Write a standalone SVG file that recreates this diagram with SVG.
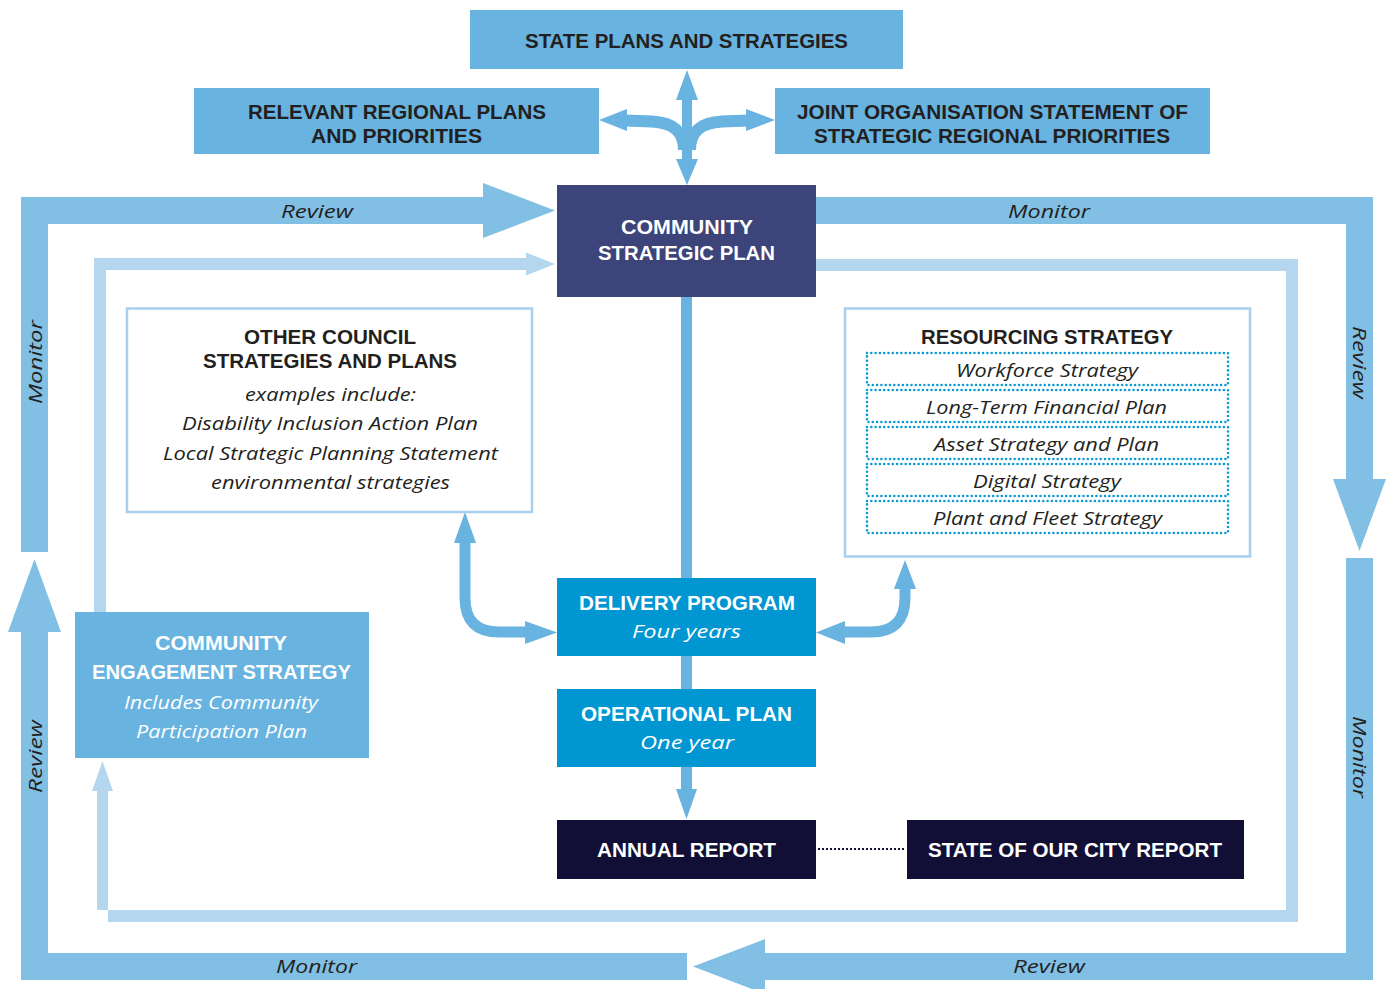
<svg xmlns="http://www.w3.org/2000/svg" width="1391" height="989" viewBox="0 0 1391 989">
<style>
.bold{font-family:"Liberation Sans","Open Sans",Arial,sans-serif;font-weight:700;font-size:21px;text-anchor:middle}
.ital{font-family:"Open Sans","Noto Sans","Liberation Sans",sans-serif;font-style:italic;font-size:19px;text-anchor:middle}
.dk{fill:#231f20}
.wh{fill:#ffffff}
.band{fill:#82bfe4}
.lband{fill:#b4d6ee}
.arr{fill:#68b3e0}
.arrl{fill:none;stroke:#68b3e0}
.dot{fill:none;stroke:#0a9ad6;stroke-width:2.6;stroke-linecap:round;stroke-dasharray:0 4.3}
</style>
<rect width="1391" height="989" fill="#ffffff"/>
<g id="connectors">
  <!-- outer loop -->
  <polygon class="band" points="21,552 21,197 483,197 483,183 555,210.5 483,238 483,224 48,224 48,552"/>
  <polygon class="band" points="816,197 1373,197 1373,479 1386,479 1359.5,551 1333,479 1346,479 1346,224 816,224"/>
  <polygon class="band" points="1346,558 1373,558 1373,980 765,980 765,994 693,966.5 765,939 765,953 1346,953"/>
  <polygon class="band" points="687,953 687,980 21,980 21,632 8,632 34.5,559 61,632 48,632 48,953"/>
  <!-- inner light loop -->
  <polygon class="lband" points="94,612 94,258 526,258 526,252.5 555,264 526,275.5 526,270 106,270 106,612"/>
  <polygon class="lband" points="816,259 1298,259 1298,922 108,922 108,791 113,791 102.5,761 92,791 97,791 97,910 1286,910 1286,271 816,271"/>
  <!-- central line -->
  <line x1="686.5" y1="297" x2="686.5" y2="792" stroke="#68b3e0" stroke-width="11"/>
  <polygon class="arr" points="676,789 686.5,819 697,789"/>
  <!-- four-way arrow -->
  <line x1="687" y1="98" x2="687" y2="161" stroke="#68b3e0" stroke-width="10"/>
  <polygon class="arr" points="676,100 687,70 698,100"/>
  <polygon class="arr" points="676,159 687,185 698,159"/>
  <path class="arrl" stroke-width="12" d="M625,120.5 L652,121.5 Q684,123 684,150"/>
  <path class="arrl" stroke-width="12" d="M749,120.5 L722,121.5 Q690,123 690,150"/>
  <polygon class="arr" points="627,109 599,120 627,131"/>
  <polygon class="arr" points="746,109 775,120 746,131"/>
  <!-- bidirectional arrows -->
  <path class="arrl" stroke-width="11" d="M465,541 L465,598 Q465,632 499,632 L527,632"/>
  <polygon class="arr" points="454,543 465,512 476,543"/>
  <polygon class="arr" points="525,621 557,632.5 525,644"/>
  <path class="arrl" stroke-width="11" d="M843,632 L871,632 Q905,632 905,598 L905,587"/>
  <polygon class="arr" points="845,621 816,632.5 845,644"/>
  <polygon class="arr" points="894,589 905,560 916,589"/>
  <!-- dotted link -->
  <line x1="818" y1="849" x2="906" y2="849" stroke="#110f35" stroke-width="2" stroke-dasharray="2 2"/>
  <!-- band labels -->
  <text class="ital dk" x="317" y="218" font-size="20" textLength="72" lengthAdjust="spacingAndGlyphs">Review</text>
  <text class="ital dk" x="1049" y="218" font-size="20" textLength="82" lengthAdjust="spacingAndGlyphs">Monitor</text>
  <text class="ital dk" x="316.5" y="973" font-size="20" textLength="81" lengthAdjust="spacingAndGlyphs">Monitor</text>
  <text class="ital dk" x="1049" y="973" font-size="20" textLength="72" lengthAdjust="spacingAndGlyphs">Review</text>
  <text class="ital dk" transform="translate(34.5,362) rotate(-90)" x="0" y="7" font-size="20" textLength="84" lengthAdjust="spacingAndGlyphs">Monitor</text>
  <text class="ital dk" transform="translate(34.5,756.5) rotate(-90)" x="0" y="7" font-size="20" textLength="73" lengthAdjust="spacingAndGlyphs">Review</text>
  <text class="ital dk" transform="translate(1359.5,362.5) rotate(90)" x="0" y="7" font-size="20" textLength="73" lengthAdjust="spacingAndGlyphs">Review</text>
  <text class="ital dk" transform="translate(1359.5,757) rotate(90)" x="0" y="7" font-size="20" textLength="82" lengthAdjust="spacingAndGlyphs">Monitor</text>
</g>
<g id="state-plans">
  <rect x="470" y="10" width="433" height="59" fill="#68b3e0"/>
  <text class="bold dk" x="686.5" y="48" font-size="22" textLength="323" lengthAdjust="spacingAndGlyphs">STATE PLANS AND STRATEGIES</text>
</g>
<g id="regional-plans">
  <rect x="194" y="88" width="405" height="66" fill="#68b3e0"/>
  <text class="bold dk" x="397" y="119" font-size="20.4" textLength="298" lengthAdjust="spacingAndGlyphs">RELEVANT REGIONAL PLANS</text>
  <text class="bold dk" x="396.5" y="142.5" font-size="20.4" textLength="171" lengthAdjust="spacingAndGlyphs">AND PRIORITIES</text>
</g>
<g id="joint-organisation">
  <rect x="775" y="88" width="435" height="66" fill="#68b3e0"/>
  <text class="bold dk" x="992.5" y="119" font-size="20.4" textLength="391" lengthAdjust="spacingAndGlyphs">JOINT ORGANISATION STATEMENT OF</text>
  <text class="bold dk" x="992" y="142.5" font-size="20.4" textLength="356" lengthAdjust="spacingAndGlyphs">STRATEGIC REGIONAL PRIORITIES</text>
</g>
<g id="community-strategic-plan">
  <rect x="557" y="185" width="259" height="112" fill="#3c4479"/>
  <text class="bold wh" x="687" y="234" textLength="132" lengthAdjust="spacingAndGlyphs">COMMUNITY</text>
  <text class="bold wh" x="686.5" y="260" textLength="177" lengthAdjust="spacingAndGlyphs">STRATEGIC PLAN</text>
</g>
<g id="other-council">
  <rect x="127" y="308.5" width="405" height="203.5" fill="#ffffff" stroke="#a9cfec" stroke-width="2.5"/>
  <text class="bold dk" x="330" y="344" textLength="172" lengthAdjust="spacingAndGlyphs">OTHER COUNCIL</text>
  <text class="bold dk" x="330" y="368" textLength="254" lengthAdjust="spacingAndGlyphs">STRATEGIES AND PLANS</text>
  <text class="ital dk" x="330.5" y="401" textLength="171" lengthAdjust="spacingAndGlyphs">examples include:</text>
  <text class="ital dk" x="330" y="430" textLength="296" lengthAdjust="spacingAndGlyphs">Disability Inclusion Action Plan</text>
  <text class="ital dk" x="330.5" y="460" textLength="335" lengthAdjust="spacingAndGlyphs">Local Strategic Planning Statement</text>
  <text class="ital dk" x="330.5" y="489" textLength="239" lengthAdjust="spacingAndGlyphs">environmental strategies</text>
</g>
<g id="resourcing-strategy">
  <rect x="845" y="308.5" width="405" height="248" fill="#ffffff" stroke="#a9cfec" stroke-width="2.5"/>
  <text class="bold dk" x="1047" y="344" textLength="252" lengthAdjust="spacingAndGlyphs">RESOURCING STRATEGY</text>
  <rect class="dot" x="867" y="353" width="361" height="32"/>
  <rect class="dot" x="867" y="390" width="361" height="32"/>
  <rect class="dot" x="867" y="427" width="361" height="32"/>
  <rect class="dot" x="867" y="464" width="361" height="32"/>
  <rect class="dot" x="867" y="501" width="361" height="32"/>
  <text class="ital dk" x="1047" y="377" textLength="182" lengthAdjust="spacingAndGlyphs">Workforce Strategy</text>
  <text class="ital dk" x="1046.5" y="414" textLength="241" lengthAdjust="spacingAndGlyphs">Long-Term Financial Plan</text>
  <text class="ital dk" x="1046.5" y="451" textLength="225" lengthAdjust="spacingAndGlyphs">Asset Strategy and Plan</text>
  <text class="ital dk" x="1047" y="488" textLength="148" lengthAdjust="spacingAndGlyphs">Digital Strategy</text>
  <text class="ital dk" x="1047.5" y="525" textLength="229" lengthAdjust="spacingAndGlyphs">Plant and Fleet Strategy</text>
</g>
<g id="delivery-program">
  <rect x="557" y="578" width="259" height="78" fill="#0096d1"/>
  <text class="bold wh" x="687" y="610" textLength="216" lengthAdjust="spacingAndGlyphs">DELIVERY PROGRAM</text>
  <text class="ital wh" x="686.5" y="638" font-size="21" textLength="109" lengthAdjust="spacingAndGlyphs">Four years</text>
</g>
<g id="operational-plan">
  <rect x="557" y="689" width="259" height="78" fill="#0096d1"/>
  <text class="bold wh" x="686.5" y="721" textLength="211" lengthAdjust="spacingAndGlyphs">OPERATIONAL PLAN</text>
  <text class="ital wh" x="687" y="749" font-size="21" textLength="94" lengthAdjust="spacingAndGlyphs">One year</text>
</g>
<g id="annual-report">
  <rect x="557" y="820" width="259" height="59" fill="#110f35"/>
  <text class="bold wh" x="686.5" y="857" textLength="179" lengthAdjust="spacingAndGlyphs">ANNUAL REPORT</text>
</g>
<g id="state-of-our-city">
  <rect x="907" y="820" width="337" height="59" fill="#110f35"/>
  <text class="bold wh" x="1075" y="857" textLength="294" lengthAdjust="spacingAndGlyphs">STATE OF OUR CITY REPORT</text>
</g>
<g id="community-engagement">
  <rect x="75" y="612" width="294" height="146" fill="#68b3e0"/>
  <text class="bold wh" x="221" y="650" textLength="132" lengthAdjust="spacingAndGlyphs">COMMUNITY</text>
  <text class="bold wh" x="221.5" y="679" textLength="259" lengthAdjust="spacingAndGlyphs">ENGAGEMENT STRATEGY</text>
  <text class="ital wh" x="221" y="709" textLength="194" lengthAdjust="spacingAndGlyphs">Includes Community</text>
  <text class="ital wh" x="221.5" y="738" textLength="171" lengthAdjust="spacingAndGlyphs">Participation Plan</text>
</g>
</svg>
